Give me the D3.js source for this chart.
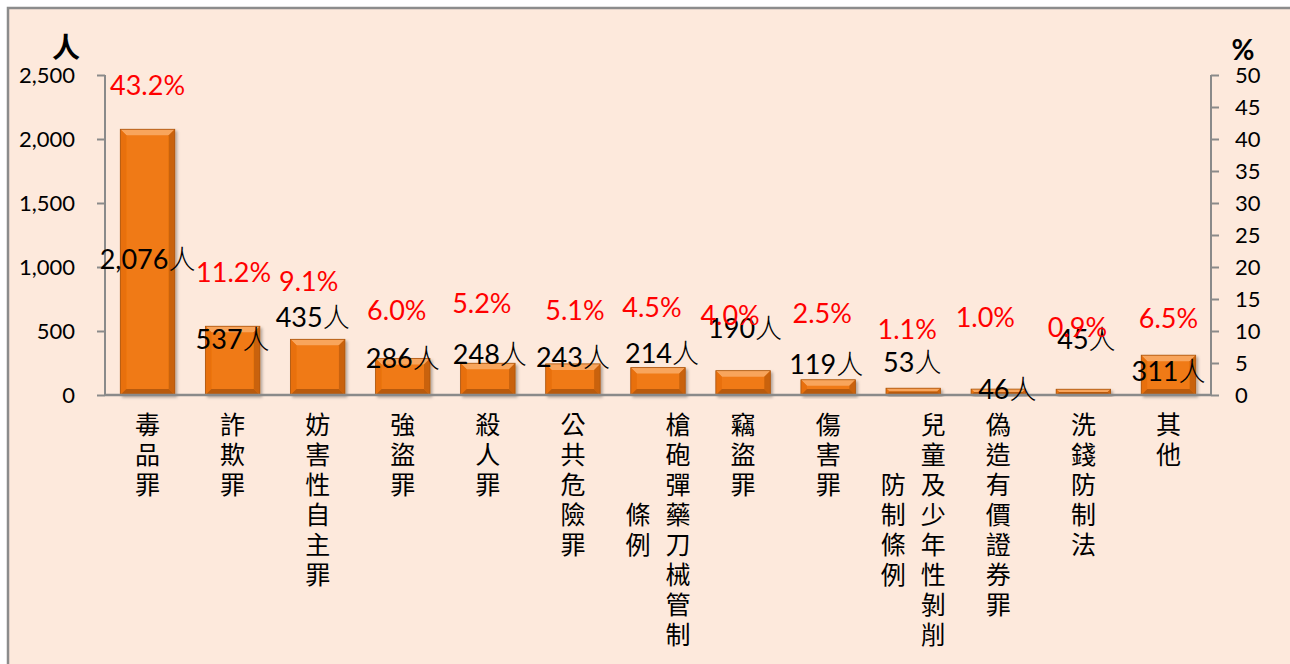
<!DOCTYPE html>
<html>
<head>
<meta charset="utf-8">
<script src="https://cdn.jsdelivr.net/npm/d3@7/dist/d3.min.js"></script>
<style>
html,body{margin:0;padding:0;background:#fff;}
svg{display:block;}
</style>
</head>
<body>
<svg id="chart" width="1290" height="664"></svg>
<script>
// ---- data ----
const categories = ["毒品罪","詐欺罪","妨害性自主罪","強盜罪","殺人罪","公共危險罪","槍砲彈藥刀械管制條例","竊盜罪","傷害罪","兒童及少年性剝削防制條例","偽造有價證券罪","洗錢防制法","其他"];
const counts = [2076,537,435,286,248,243,214,190,119,53,46,45,311];
const percents = [43.2,11.2,9.1,6.0,5.2,5.1,4.5,4.0,2.5,1.1,1.0,0.9,6.5];
const leftTicks = [0,500,1000,1500,2000,2500];
const rightTicks = [0,5,10,15,20,25,30,35,40,45,50];
const leftUnit = "人";
const rightUnit = "%";
// label placement (in axis units, as in the original manual layout)
const countLabelAt = [1031,406,578,258,289,266,297,492,211,227,16,406,156];
const countLabelDx = [0,0,-5,0,2,0,4,2,-2,-1,9,3,0];
const pctLabelAt = [48.4,19.2,17.8,13.3,14.4,13.3,13.75,12.5,12.7,10.2,12.2,10.6,12.0];
const pctLabelDx = [0,1,-9,-6,-6,2,-6,-13,-6,-6,-13,-6,0];

const svg = d3.select("#chart");
const W = 1290, H = 664;
const plot = {left:105, right:1211, top:75, bottom:395};
const latin = "Lato, 'Liberation Sans', sans-serif";
const cjk = "'Noto Sans CJK TC', 'Noto Sans CJK SC', sans-serif";

// background and frame
svg.append("rect").attr("x",0).attr("y",0).attr("width",W).attr("height",H).attr("fill","#fff");
svg.append("rect").attr("x",8).attr("y",8).attr("width",W+20).attr("height",H+20)
  .attr("fill","#FDE9DC").attr("stroke","#8c8c8c").attr("stroke-width",2.5);

const x = d3.scaleBand().domain(categories).range([plot.left, plot.right]).paddingInner(0.36).paddingOuter(0.18);
const yL = d3.scaleLinear().domain([0,2500]).range([plot.bottom, plot.top]);
const yR = d3.scaleLinear().domain([0,50]).range([plot.bottom, plot.top]);

// axes
const axisColor = "#8a8a8a";
const gL = svg.append("g").attr("transform",`translate(${plot.left},0)`)
  .call(d3.axisLeft(yL).tickValues(leftTicks).tickFormat(d3.format(",")).tickSize(8).tickPadding(22));
const gR = svg.append("g").attr("transform",`translate(${plot.right},0)`)
  .call(d3.axisRight(yR).tickValues(rightTicks).tickFormat(d3.format("d")).tickSize(8).tickPadding(16));
[gL,gR].forEach(g=>{
  g.select(".domain").remove();
  g.selectAll(".tick line").attr("stroke",axisColor).attr("stroke-width",2);
  g.selectAll(".tick text").attr("font-family",latin).attr("font-size",22).attr("fill","#000").attr("dy","0.36em");
});
svg.append("line").attr("x1",plot.left).attr("x2",plot.left).attr("y1",yL(2500)).attr("y2",yL(0))
  .attr("stroke",axisColor).attr("stroke-width",2);
svg.append("line").attr("x1",plot.right).attr("x2",plot.right).attr("y1",yR(50)).attr("y2",yR(0))
  .attr("stroke",axisColor).attr("stroke-width",2);

// axis unit titles
svg.append("text").attr("x",66).attr("y",47).attr("dy","0.38em").attr("text-anchor","middle")
  .attr("font-family",cjk).attr("font-weight","bold").attr("font-size",28).text(leftUnit);
svg.append("text").attr("x",1243).attr("y",50).attr("dy","0.36em").attr("text-anchor","middle")
  .attr("font-family",latin).attr("font-weight","bold").attr("font-size",28).text(rightUnit);

// bars with bevel
const defs = svg.append("defs");
const f = defs.append("filter").attr("id","sh").attr("x","-20%").attr("y","-20%").attr("width","140%").attr("height","140%");
f.append("feDropShadow").attr("dx",2).attr("dy",2).attr("stdDeviation",1.5).attr("flood-color","#000").attr("flood-opacity",0.3);

const bars = svg.append("g").selectAll("g").data(categories).join("g").attr("filter","url(#sh)");
bars.each(function(c,i){
  const g = d3.select(this);
  const x0 = x(c), x1 = x(c)+x.bandwidth();
  const y0 = yL(counts[i]), y1 = yL(0);
  const h = y1-y0;
  const b = Math.min(6, h/2);
  g.append("rect").attr("x",x0).attr("y",y0).attr("width",x1-x0).attr("height",h).attr("fill","#F07A14");
  const poly = (pts, col)=> g.append("polygon").attr("points",pts.map(p=>p.join(",")).join(" ")).attr("fill",col);
  poly([[x0,y0],[x1,y0],[x1-b,y0+b],[x0+b,y0+b]], "#F8A55C");
  poly([[x0,y0],[x0+b,y0+b],[x0+b,y1-b],[x0,y1]], "#E86F0E");
  poly([[x1,y0],[x1,y1],[x1-b,y1-b],[x1-b,y0+b]], "#C9620B");
  poly([[x0,y1],[x0+b,y1-b],[x1-b,y1-b],[x1,y1]], "#B85A0A");
  g.append("rect").attr("x",x0).attr("y",y0).attr("width",x1-x0).attr("height",h)
    .attr("fill","none").attr("stroke","#A9540C").attr("stroke-width",0.8);
});

// x-axis line
svg.append("line").attr("x1",plot.left).attr("x2",plot.right).attr("y1",plot.bottom).attr("y2",plot.bottom)
  .attr("stroke",axisColor).attr("stroke-width",2.5);

// count labels
const cl = svg.append("g").selectAll("text").data(categories).join("text")
  .attr("x",(c,i)=>x(c)+x.bandwidth()/2+countLabelDx[i])
  .attr("y",(c,i)=>yL(countLabelAt[i]))
  .attr("dy","0.36em").attr("text-anchor","middle").attr("fill","#000");
cl.append("tspan").attr("font-family",latin).attr("font-size",27).text((c,i)=>d3.format(",")(counts[i]));
cl.append("tspan").attr("font-family",cjk).attr("font-weight",300).attr("font-size",27).text(leftUnit);

// percent labels
svg.append("g").selectAll("text").data(categories).join("text")
  .attr("x",(c,i)=>x(c)+x.bandwidth()/2+pctLabelDx[i])
  .attr("y",(c,i)=>yR(pctLabelAt[i]))
  .attr("dy","0.36em").attr("text-anchor","middle").attr("fill","#FF0000")
  .attr("font-family",latin).attr("font-size",27)
  .text((c,i)=>d3.format(".1f")(percents[i])+"%");

// category labels: vertical stacked text, max 8 chars per column, columns right-to-left
const perCol = 8, rowStep = 30, firstTop = 412, colGap = 40, catSize = 25;
const catG = svg.append("g");
categories.forEach((c,i)=>{
  const chars = Array.from(c);
  const cols = [];
  for(let k=0;k<chars.length;k+=perCol) cols.push(chars.slice(k,k+perCol));
  const cx = x(c)+x.bandwidth()/2;
  const nCols = cols.length;
  cols.forEach((col,j)=>{
    const colX = cx + ((nCols-1)/2 - j)*colGap;
    const maxLen = cols[0].length;
    const off = nCols>1 ? Math.floor((maxLen-col.length)/2) : 0;
    catG.append("text")
      .attr("x",colX).attr("y",firstTop + off*rowStep)
      .style("writing-mode","vertical-rl").style("text-orientation","upright")
      .style("letter-spacing",(rowStep-catSize)+"px")
      .attr("font-family",cjk).attr("font-size",catSize).attr("fill","#000")
      .text(col.join(""));
  });
});
</script>
</body>
</html>
